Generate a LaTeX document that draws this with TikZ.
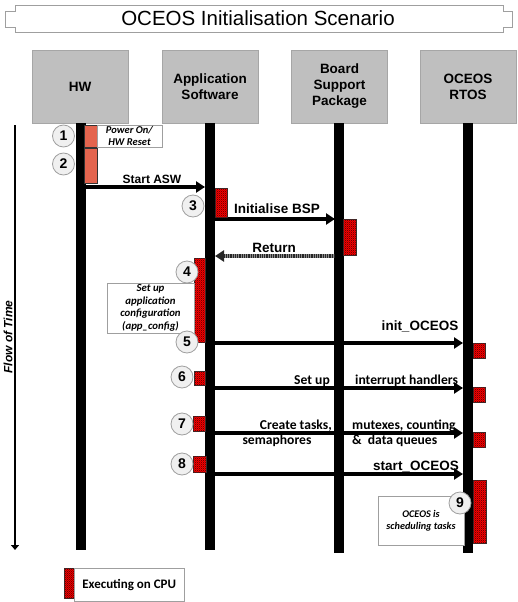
\documentclass[tikz,border=0pt]{standalone}
\usepackage{fontspec}
\setmainfont{Liberation Sans}
\newfontfamily\calfont{Carlito}
\usetikzlibrary{arrows.meta,patterns}
\pgfdeclarepatternformonly{finecheck}{\pgfpointorigin}{\pgfqpoint{2.2pt}{2.2pt}}{\pgfqpoint{2.2pt}{2.2pt}}{%
  \pgfpathrectangle{\pgfpointorigin}{\pgfqpoint{1.1pt}{1.1pt}}%
  \pgfpathrectangle{\pgfqpoint{1.1pt}{1.1pt}}{\pgfqpoint{1.1pt}{1.1pt}}%
  \pgfusepath{fill}}
\definecolor{hwred}{RGB}{228,100,78}
\begin{document}
\begin{tikzpicture}[x=1pt,y=-1pt,
  hdr/.style={draw=gray!70, fill=black!25, minimum width=96pt, minimum height=73pt, align=center, inner sep=0pt,
    font=\bfseries\fontsize{13.5}{16}\selectfont},
  life/.style={line width=10pt, black},
  msg/.style={line width=4pt, -{Triangle[length=9pt,width=11pt]}},
  retmsg/.style={line width=4pt, black!85, dash pattern=on 1.1pt off 0.7pt, -{Triangle[length=9pt,width=11pt]}},
  exec/.style={draw=black!80, line width=0.6pt, fill=red, inner sep=0pt,
    postaction={pattern=finecheck, pattern color=red!45!black}},
  hwexec/.style={draw=black!80, line width=0.6pt, fill=hwred, inner sep=0pt},
  num/.style={circle, draw=gray!75, line width=0.8pt, fill=gray!12, minimum size=22pt, inner sep=0pt,
    font=\bfseries\fontsize{14}{14}\selectfont},
  tbox/.style={draw=gray!75, fill=white, inner sep=0pt, align=center},
  lbl/.style={font=\bfseries\fontsize{13.5}{14}\selectfont, inner sep=0pt},
  clbl/.style={font=\calfont\bfseries\fontsize{13.6}{14}\selectfont, inner sep=0pt},
  titlebox/.style={draw=gray!75, line width=0.6pt}
]
\useasboundingbox (0,0) rectangle (518,602);
% title
\draw[titlebox, double=white, double distance=1.4pt] (2,8) -- (12,8) -- (12,2) -- (506,2) -- (506,8) -- (516,8) -- (516,30) -- (506,30) -- (506,36) -- (12,36) -- (12,30) -- (2,30) -- cycle;
\draw[titlebox] (5.5,11) -- (15,11) -- (15,5.5) -- (503,5.5) -- (503,11) -- (512.5,11) -- (512.5,27) -- (503,27) -- (503,32.5) -- (15,32.5) -- (15,27) -- (5.5,27) -- cycle;
\node (title) at (258,18.5) {\fontsize{20.5}{20.5}\selectfont OCEOS Initialisation Scenario};
% headers
\node[hdr] (hw) at (80,86.5) {HW};
\node[hdr] (asw) at (210,86.5) {Application\\Software};
\node[hdr] (bsp) at (339.5,86.5) {Board\\Support\\Package};
\node[hdr] (rtos) at (468,86.5) {OCEOS\\RTOS};
% lifelines
\coordinate (hwb) at (81,550);
\coordinate (aswb) at (210,550);
\coordinate (bspb) at (339,553);
\coordinate (rtosb) at (468,553);
\draw[life] (hw.south -| hwb) -- (hwb);
\draw[life] (asw.south -| aswb) -- (aswb);
\draw[life] (bsp.south -| bspb) -- (bspb);
\draw[life] (rtos.south -| rtosb) -- (rtosb);
% flow of time
\coordinate (ft1) at (15,125);
\coordinate (ft2) at (15,550);
\draw[line width=2pt, -{Triangle[length=5pt,width=8pt]}] (ft1) -- (ft2);
\node[rotate=90, font=\bfseries\itshape\fontsize{12}{12}\selectfont] (flow) at (8,337) {Flow of Time};
% messages
\coordinate (m1a) at (86,187); \coordinate (m1b) at (205,187);
\coordinate (m2a) at (215,219); \coordinate (m2b) at (335,219);
\coordinate (m3a) at (335,256); \coordinate (m3b) at (215,256); \coordinate (m3c) at (224,256);
\coordinate (m4a) at (215,343); \coordinate (m4b) at (463,343);
\coordinate (m5a) at (215,388); \coordinate (m5b) at (463,388);
\coordinate (m6a) at (215,433); \coordinate (m6b) at (463,433);
\coordinate (m7a) at (215,474); \coordinate (m7b) at (463,474);
\draw[msg] (m1a) -- (m1b);
\draw[msg] (m2a) -- (m2b);
\draw[line width=4pt, black!45] (m3a) -- (m3c);
\draw[retmsg] (m3a) -- (m3b);
\draw[msg] (m4a) -- (m4b);
\draw[msg] (m5a) -- (m5b);
\draw[msg] (m6a) -- (m6b);
\draw[msg] (m7a) -- (m7b);
% message labels
\node[lbl, anchor=base, font=\bfseries\fontsize{12}{14}\selectfont] (l1) at (152,183) {Start ASW};
\node[lbl, anchor=base] (l2) at (277,213) {Initialise BSP};
\node[lbl, anchor=base] (l3) at (274,252) {Return};
\node[lbl, anchor=base] (l4) at (420,330) {init\_OCEOS};
\node[clbl, anchor=base east] (l5a) at (330,384) {Set up};
\node[clbl, anchor=base west] (l5b) at (355,384) {interrupt handlers};
\node[clbl, anchor=base east] (l6a) at (332,429) {Create tasks,};
\node[clbl, anchor=base west] (l6b) at (352,429) {mutexes, counting};
\node[clbl, anchor=base] (l6c) at (277,444) {semaphores};
\node[clbl, anchor=base west] (l6d) at (352,444) {\&\ \ data queues};
\node[lbl, anchor=base] (l7) at (416,470) {start\_OCEOS};
% execution boxes
\node[hwexec, anchor=north west, minimum width=13pt, minimum height=22pt] (e1) at (84,125) {};
\node[hwexec, anchor=north west, minimum width=13pt, minimum height=35pt] (e2) at (84,148) {};
\node[exec, anchor=north west, minimum width=12pt, minimum height=29pt] (e3) at (215,188) {};
\node[exec, anchor=north west, minimum width=13pt, minimum height=36pt] (eb) at (343,219) {};
\node[exec, anchor=north west, minimum width=11pt, minimum height=84pt] (e4) at (194,258) {};
\node[exec, anchor=north west, minimum width=12pt, minimum height=15pt] (o5) at (473,343) {};
\node[exec, anchor=north west, minimum width=11pt, minimum height=14pt] (e6) at (194,371) {};
\node[exec, anchor=north west, minimum width=12pt, minimum height=15pt] (o6) at (473,387) {};
\node[exec, anchor=north west, minimum width=12pt, minimum height=15pt] (e7) at (193,416) {};
\node[exec, anchor=north west, minimum width=12pt, minimum height=15pt] (o7) at (473,432) {};
\node[exec, anchor=north west, minimum width=13pt, minimum height=16pt] (e8) at (193,456) {};
\node[exec, anchor=north west, minimum width=13pt, minimum height=63pt] (o9) at (473,480) {};
% text boxes
\node[tbox, minimum width=65pt, minimum height=22pt, font=\calfont\bfseries\itshape\fontsize{10.5}{11.5}\selectfont] (pwr) at (129.5,136) {Power On/\\HW Reset};
\node[tbox, minimum width=87pt, minimum height=50pt, font=\calfont\bfseries\itshape\fontsize{10.8}{12.5}\selectfont] (setup) at (150.5,308) {Set up\\application\\configuration\\(app\_config)};
\node[tbox, minimum width=86pt, minimum height=49pt, font=\calfont\bfseries\itshape\fontsize{10.2}{12}\selectfont] (sched) at (421,520.5) {OCEOS is\\scheduling tasks};
% circles
\node[num] (n1) at (63.5,136) {1};
\node[num] (n2) at (63.5,164) {2};
\node[num] (n3) at (193,206) {3};
\node[num] (n4) at (187,272) {4};
\node[num] (n5) at (187,342) {5};
\node[num] (n6) at (182,377) {6};
\node[num] (n7) at (182,424) {7};
\node[num] (n8) at (182,464) {8};
\node[num] (n9) at (460,503) {9};
% legend
\node[exec, anchor=north west, minimum width=10pt, minimum height=30pt] (leg) at (64,568) {};
\node[tbox, anchor=north west, minimum width=110pt, minimum height=33pt, font=\calfont\bfseries\fontsize{13}{14}\selectfont] (legtxt) at (74,568) {Executing on CPU};
\end{tikzpicture}
\end{document}
